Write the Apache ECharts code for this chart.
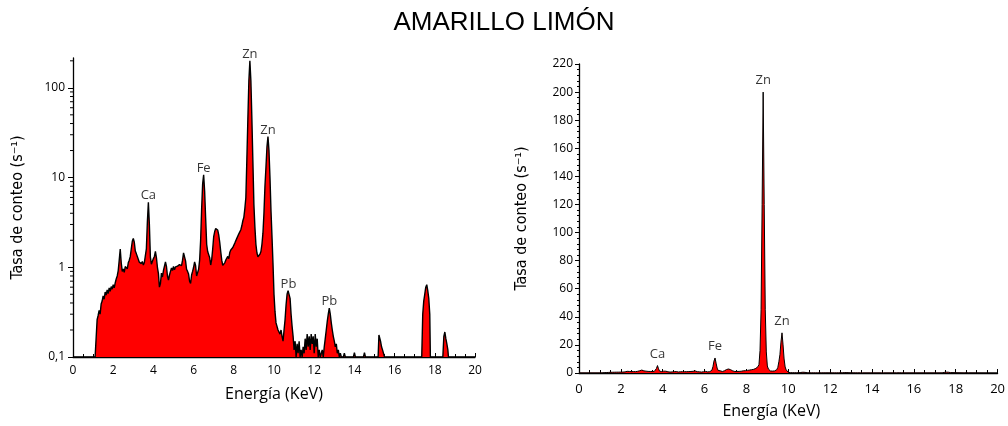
<!DOCTYPE html>
<html><head><meta charset="utf-8">
<script src="https://cdn.jsdelivr.net/npm/echarts@6/dist/echarts.min.js"></script>
<style>html,body{margin:0;padding:0;background:#fff}#c{width:1008px;height:426px}</style>
</head><body><div id="c"></div>
<script>
// Energy axis (keV)
const energies = [
  0, 1.1, 1.15,
  1.2,1.25,1.3,1.35,1.4,1.45,1.5,1.55,1.6,1.65,1.7,1.75,1.8,1.85,1.9,1.95,
  2.0,2.05,2.1,2.15,2.2,2.25,2.3,2.35,2.4,2.45,2.5,2.55,2.6,2.65,2.7,2.75,2.8,2.85,2.9,2.95,
  3.0,3.05,3.1,3.15,3.2,3.25,3.3,3.35,3.4,3.45,3.5,3.55,3.6,3.65,3.7,3.75,3.8,3.85,3.9,3.95,
  4.0,4.05,4.1,4.15,4.2,4.25,4.3,4.35,4.4,4.45,4.5,4.55,4.6,4.65,4.7,4.75,4.8,4.85,4.9,4.95,
  5.0,5.05,5.1,5.15,5.2,5.25,5.3,5.35,5.4,5.45,5.5,5.55,5.6,5.65,5.7,5.75,5.8,5.85,5.9,5.95,
  6.0,6.05,6.1,6.15,6.2,6.25,6.3,6.35,6.4,6.45,6.5,6.55,6.6,6.65,6.7,6.75,6.8,6.85,6.9,6.95,
  7.0,7.05,7.1,7.15,7.2,7.25,7.3,7.35,7.4,7.45,7.5,7.55,7.6,7.65,7.7,7.75,7.8,7.85,7.9,7.95,
  8.0,8.05,8.1,8.15,8.2,8.25,8.3,8.35,8.4,8.45,8.5,8.55,8.6,8.65,8.7,8.75,8.8,8.85,8.9,8.95,
  9.0,9.05,9.1,9.15,9.2,9.25,9.3,9.35,9.4,9.45,9.5,9.55,9.6,9.65,9.7,9.75,9.8,9.85,9.9,9.95,
  10.0,10.05,10.1,10.15,10.2,10.25,10.3,10.35,10.4,10.45,10.5,10.55,10.6,10.65,10.7,10.75,10.8,10.85,10.9,10.95,
  11.0,11.05,11.1,11.15,11.2,11.25,11.3,11.35,11.4,11.45,11.5,11.55,11.6,11.65,11.7,11.75,11.8,11.85,11.9,11.95,
  12.0,12.05,12.1,12.15,12.2,12.25,12.3,12.35,12.4,12.45,12.5,12.55,12.6,12.65,12.7,12.75,12.8,12.85,12.9,12.95,
  13.0,13.05,13.1,13.15,13.2,13.25,13.3,13.35,
  13.45,13.5,13.55,13.95,14.0,14.05,14.45,14.5,14.55,
  15.18,15.22,15.3,15.35,15.4,15.5,
  17.35,17.4,17.45,17.5,17.55,17.6,17.65,17.7,17.75,17.78,
  18.4,18.45,18.5,18.55,18.6,18.65,18.68,
  20
];
// Count rate (s^-1)
const counts = [
  0.1, 0.1, 0.1,
  0.26,0.29,0.33,0.30,0.39,0.42,0.48,0.44,0.53,0.49,0.56,0.51,0.59,0.54,0.61,0.57,
  0.64,0.59,0.67,0.74,0.80,0.92,1.2,1.6,1.12,0.9,0.96,0.88,1.02,1.06,0.96,1.12,1.2,1.32,1.6,1.95,
  2.1,1.9,1.52,1.42,1.32,1.26,1.14,1.2,1.1,1.16,1.06,1.13,1.15,1.6,3.2,5.3,3.0,1.3,1.08,1.05,
  1.25,1.32,1.5,1.28,1.0,0.85,0.6,0.66,0.86,0.78,0.92,0.95,1.15,1.02,0.8,0.72,0.82,0.9,0.98,0.92,
  1.02,0.94,1.01,0.96,1.03,0.99,1.07,1.1,1.04,1.2,1.45,1.5,1.18,0.95,0.9,0.84,0.7,0.66,0.82,0.9,
  1.0,1.15,1.04,0.8,0.76,0.95,1.2,2.0,4.5,8.5,10.7,7.0,3.5,1.8,1.5,1.56,1.28,1.06,1.22,1.6,
  2.2,2.5,2.7,2.84,2.6,2.3,1.9,1.5,1.2,1.05,1.0,1.12,1.2,1.14,1.32,1.25,1.46,1.56,1.5,1.66,
  1.74,1.86,1.94,2.1,2.18,2.36,2.48,2.62,2.9,3.3,3.6,4.5,6,16,45,120,200,120,45,15,
  5,2.8,1.8,1.45,1.31,1.35,1.4,1.5,1.8,2.4,4,8,13,22,28.6,20,10,4.3,2.2,1.1,
  0.5,0.32,0.24,0.23,0.2,0.21,0.18,0.2,0.17,0.15,0.2,0.26,0.38,0.5,0.55,0.55,0.45,0.3,0.22,0.17,
  0.12,0.15,0.1,0.14,0.11,0.15,0.1,0.12,0.1,0.13,0.11,0.16,0.12,0.18,0.13,0.17,0.12,0.18,0.14,0.17,
  0.11,0.18,0.13,0.16,0.1,0.12,0.1,0.1,0.12,0.1,0.13,0.16,0.2,0.25,0.3,0.35,0.3,0.24,0.2,0.17,
  0.15,0.13,0.14,0.11,0.12,0.1,0.11,0.1,
  0.1,0.11,0.1,0.1,0.112,0.1,0.1,0.112,0.1,
  0.1,0.176,0.15,0.13,0.12,0.1,
  0.1,0.3,0.42,0.5,0.6,0.64,0.55,0.45,0.3,0.1,
  0.1,0.17,0.19,0.16,0.14,0.12,0.1,
  0.1
];
// Peak annotations
const peakNames    = ['Ca', 'Fe', 'Zn', 'Zn', 'Pb', 'Pb'];
const peakEnergies = [3.75, 6.5, 8.8, 9.7, 10.72, 12.75];
const peakCounts   = [5.3, 10.7, 200, 28.6, 0.55, 0.35];
const linearPanelPeaks = 4; // Pb lines not labelled on the linear panel

// Tick values
const logMajorTicks = [0.1, 1, 10, 100];
const logMinorTicks = [0.2,0.3,0.4,0.5,0.6,0.7,0.8,0.9, 2,3,4,5,6,7,8,9, 20,30,40,50,60,70,80,90, 200];

const spectrum = energies.map((e, i) => [e, counts[i]]);
const peaksLog = peakNames.map((n, i) => ({ value: [peakEnergies[i], peakCounts[i]], name: n }));
const peaksLin = peaksLog.slice(0, linearPanelPeaks);

const FONT = '"Open Sans", "Noto Sans", sans-serif';
const NARROW = '"DejaVu Sans Condensed", "Liberation Sans Narrow", "Open Sans", sans-serif';
const axisLineStyle = { color: '#000', width: 1.3 };

const chart = echarts.init(document.getElementById('c'));
chart.setOption({
  animation: false,
  backgroundColor: '#fff',
  title: {
    text: 'AMARILLO LIMÓN', left: 'center', top: 5,
    textStyle: { fontFamily: '"Liberation Sans", Arial, sans-serif', fontSize: 26, fontWeight: 'normal', color: '#000' }
  },
  grid: [
    { left: 73, top: 58, width: 402, height: 299 },
    { left: 579, top: 64, width: 420, height: 309 }
  ],
  xAxis: [
    {
      type: 'value', gridIndex: 0, min: 0, max: 20, interval: 2,
      axisLine: { onZero: false, lineStyle: axisLineStyle },
      axisTick: { inside: true, length: 4, lineStyle: { color: '#000' } },
      minorTick: { show: true, splitNumber: 4, length: 3, lineStyle: { color: '#000' } },
      splitLine: { show: false },
      axisLabel: { color: '#000', fontSize: 12, margin: 8, fontFamily: FONT },
      name: 'Energía (KeV)', nameLocation: 'middle', nameGap: 29,
      nameTextStyle: { color: '#000', fontSize: 16, fontFamily: FONT }
    },
    {
      type: 'value', gridIndex: 1, min: 0, max: 20, interval: 2,
      axisLine: { onZero: false, lineStyle: axisLineStyle },
      axisTick: { inside: true, length: 4, lineStyle: { color: '#000' } },
      minorTick: { show: true, splitNumber: 4, length: 3, lineStyle: { color: '#000' } },
      splitLine: { show: false },
      axisLabel: { color: '#000', fontSize: 13, margin: 10, fontFamily: FONT },
      name: 'Energía (KeV)', nameLocation: 'middle', nameGap: 30,
      nameTextStyle: { color: '#000', fontSize: 16, fontFamily: FONT, padding: [0, 34, 0, 0] }
    }
  ],
  yAxis: [
    {
      type: 'log', logBase: 10, gridIndex: 0, min: 0.1, max: 215,
      axisLine: { show: true, lineStyle: axisLineStyle },
      axisTick: { show: true, length: 5, customValues: logMajorTicks, lineStyle: { color: '#000' } },
      splitLine: { show: false },
      axisLabel: {
        color: '#000', fontSize: 12, margin: 8, fontFamily: FONT, customValues: logMajorTicks,
        formatter: v => String(v).replace('.', ',')
      },
      name: 'Tasa de conteo (s⁻¹)', nameLocation: 'middle', nameGap: 47,
      nameTextStyle: { color: '#000', fontSize: 16, fontFamily: NARROW }
    },
    {
      type: 'value', gridIndex: 1, min: 0, max: 220, interval: 20,
      axisLine: { show: true, lineStyle: axisLineStyle },
      axisTick: { show: true, length: 4, lineStyle: { color: '#000' } },
      minorTick: { show: true, splitNumber: 5, length: 2, lineStyle: { color: '#000' } },
      splitLine: { show: false },
      axisLabel: { color: '#000', fontSize: 12, margin: 6, fontFamily: FONT },
      name: 'Tasa de conteo (s⁻¹)', nameLocation: 'middle', nameGap: 49,
      nameTextStyle: { color: '#000', fontSize: 16, fontFamily: NARROW }
    }
  ],
  series: [
    {
      type: 'line', xAxisIndex: 0, yAxisIndex: 0, data: spectrum,
      showSymbol: false, symbol: 'none', silent: true,
      lineStyle: { color: '#000', width: 1.4 },
      areaStyle: { color: '#ff0000', opacity: 1 }
    },
    {
      type: 'line', xAxisIndex: 1, yAxisIndex: 1, data: spectrum,
      showSymbol: false, symbol: 'none', silent: true,
      lineStyle: { color: '#000', width: 1 },
      areaStyle: { color: '#ff0000', opacity: 1 }
    },
    {
      type: 'scatter', xAxisIndex: 0, yAxisIndex: 0, data: peaksLog, symbolSize: 0, silent: true,
      label: { show: true, position: 'top', distance: 0, formatter: p => p.name, color: '#000', fontSize: 13, fontFamily: FONT }
    },
    {
      type: 'scatter', xAxisIndex: 1, yAxisIndex: 1, data: peaksLin, symbolSize: 0, silent: true,
      label: { show: true, position: 'top', distance: 5, formatter: p => p.name, color: '#000', fontSize: 13, fontFamily: FONT }
    },
    {
      type: 'custom', xAxisIndex: 0, yAxisIndex: 0, silent: true, clip: false,
      data: logMinorTicks.map(v => [0, v]),
      renderItem: (params, api) => {
        const p = api.coord([api.value(0), api.value(1)]);
        return { type: 'line', shape: { x1: p[0] - 3, y1: p[1], x2: p[0], y2: p[1] }, style: { stroke: '#000', lineWidth: 1 } };
      }
    }
  ]
});
</script>
</body></html>
